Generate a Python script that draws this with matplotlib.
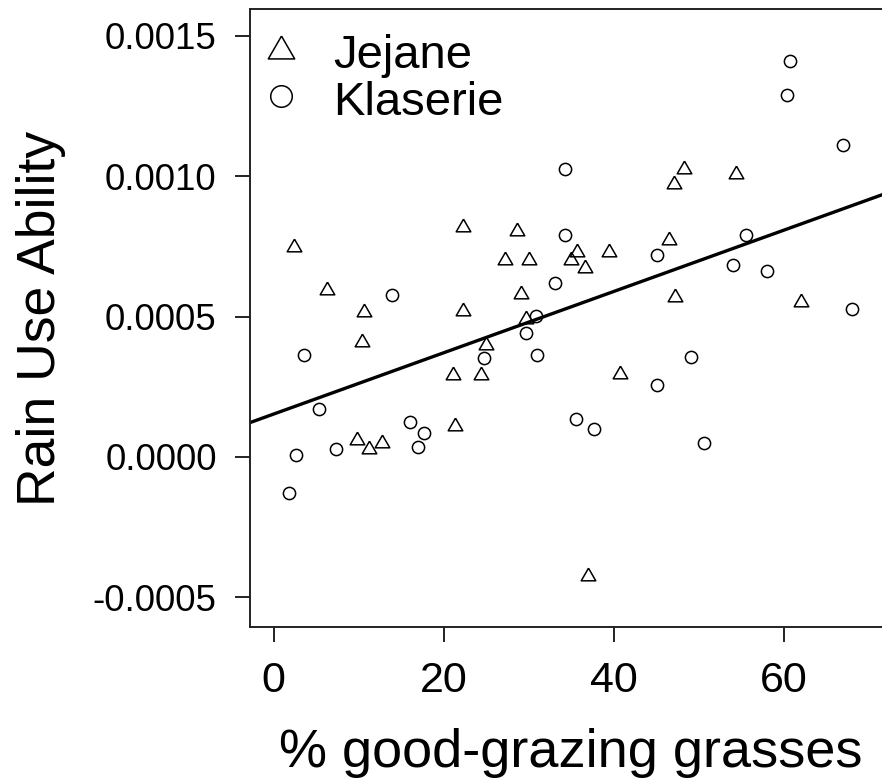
import numpy as np
import matplotlib
matplotlib.use("Agg")
import matplotlib.pyplot as plt

plt.rcParams['font.family'] = ['Liberation Sans', 'DejaVu Sans']

# Jejane sites (triangles)
jejane_x = [2.4, 6.3, 10.6, 10.4, 22.3, 22.2, 28.6, 27.2, 30.0, 29.1,
            29.7, 24.9, 21.1, 24.4, 21.3, 9.8, 11.2, 12.7, 35.6, 34.9,
            36.6, 39.4, 46.5, 48.3, 47.1, 54.3, 47.2, 62.0, 40.7, 37.0]
jejane_y = [0.000755, 0.000603, 0.000524, 0.000417, 0.000827, 0.000526,
            0.000811, 0.000708, 0.000708, 0.000589, 0.000500, 0.000407,
            0.000298, 0.000300, 0.000119, 0.000068, 0.000037, 0.000058,
            0.000738, 0.000708, 0.000681, 0.000736, 0.000781, 0.001034,
            0.000981, 0.001015, 0.000576, 0.000559, 0.000304, -0.000417]

# Klaserie sites (circles)
klaserie_x = [60.7, 60.4, 67.0, 34.3, 34.3, 55.5, 45.1, 54.0, 58.0, 33.1,
              68.0, 13.9, 30.8, 29.7, 31.0, 24.7, 3.5, 5.3, 16.0, 17.7,
              16.9, 7.3, 2.6, 1.8, 49.1, 45.1, 35.5, 37.6, 50.6]
klaserie_y = [0.001411, 0.001290, 0.001112, 0.001026, 0.000791, 0.000791,
              0.000719, 0.000684, 0.000663, 0.000620, 0.000526, 0.000577,
              0.000503, 0.000443, 0.000363, 0.000354, 0.000363, 0.000170,
              0.000126, 0.000084, 0.000035, 0.000027, 0.000007, -0.000129,
              0.000355, 0.000255, 0.000135, 0.000100, 0.000049]

# fitted line
fit_intercept = 0.000153
fit_slope = 0.00001092

x_ticks = [0, 20, 40, 60]
y_ticks = [-0.0005, 0.0000, 0.0005, 0.0010, 0.0015]
y_tick_labels = ['-0.0005', '0.0000', '0.0005', '0.0010', '0.0015']

tri = [(0, 0.75), (-0.866, -0.75), (0.866, -0.75), (0, 0.75)]

dpi = 100
fig = plt.figure(figsize=(882 / dpi, 779 / dpi), dpi=dpi)
ax = fig.add_axes([250 / 882, (779 - 627.3) / 779, 642.8 / 882, 618 / 779])

ax.plot(jejane_x, jejane_y, ls='none', marker=tri, ms=10.5, mfc='none',
        mec='black', mew=1.1)
ax.plot(klaserie_x, klaserie_y, ls='none', marker='o', ms=8.8, mfc='none',
        mec='black', mew=1.1)
ax.axline((0, fit_intercept), slope=fit_slope, color='black', lw=2.4)

ax.set_xlim(-2.8, 72.8)
ax.set_ylim(-0.000607, 0.001595)

ax.set_xticks(x_ticks)
ax.set_xticklabels([str(v) for v in x_ticks], fontsize=31)
ax.set_yticks(y_ticks)
ax.set_yticklabels(y_tick_labels, fontsize=26.5)
ax.tick_params(axis='both', direction='out', length=11, width=1.4, color='#222222')
ax.tick_params(axis='x', pad=13)
ax.tick_params(axis='y', pad=13)

for s in ax.spines.values():
    s.set_linewidth(1.4)
    s.set_color('#222222')

ax.set_xlabel('% good-grazing grasses', fontsize=39)
ax.xaxis.set_label_coords(0.4986, -0.2256)
ax.xaxis.label.set_va('baseline')
ax.set_ylabel('Rain Use Ability', fontsize=38.5)
ax.yaxis.set_label_coords(-0.3034, 0.5)
ax.yaxis.label.set_va('baseline')

# legend
ax.plot([0.0482], [0.9395], transform=ax.transAxes, ls='none', marker=tri,
        ms=19, mfc='none', mec='black', mew=1.1, clip_on=False)
ax.plot([0.0482], [0.860], transform=ax.transAxes, ls='none', marker='o',
        ms=15.5, mfc='none', mec='black', mew=1.1, clip_on=False)
ax.text(0.129, 0.905, 'Jejane', transform=ax.transAxes, fontsize=34,
        va='baseline', ha='left')
ax.text(0.129, 0.829, 'Klaserie', transform=ax.transAxes, fontsize=34,
        va='baseline', ha='left')

fig.savefig('out.png', dpi=dpi)
